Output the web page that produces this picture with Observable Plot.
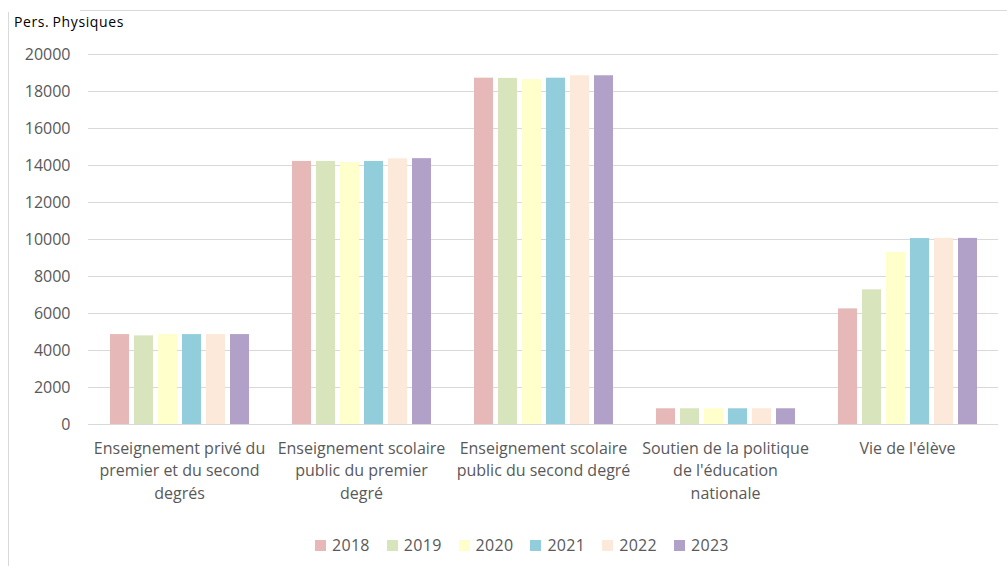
<!DOCTYPE html>
<html>
<head>
<meta charset="utf-8">
<script src="https://cdn.jsdelivr.net/npm/d3@7"></script>
<script src="https://cdn.jsdelivr.net/npm/@observablehq/plot@0.6"></script>
<style>
  html, body { margin: 0; padding: 0; background: #fff; width: 1007px; height: 566px; overflow: hidden; }
  body { position: relative; font-family: "Open Sans", sans-serif; }
  #frame { position: absolute; left: 8px; top: 10px; width: 999px; height: 556px; border-left: 1px solid #d9d9d9; border-top: 1px solid #d9d9d9; box-sizing: border-box; }
  #frameGap { position: absolute; left: 8px; top: 9px; width: 72px; height: 3px; background: #fff; }
  #unit { position: absolute; left: 14px; top: 12px; font-size: 14px; color: #000; letter-spacing: 0.6px; word-spacing: -1px; }
  #chart { position: absolute; left: 0; top: 0; }
  #legend { position: absolute; left: 315px; top: 534px; display: flex; align-items: center; font-size: 16px; color: #595959; letter-spacing: 0.3px; }
  .item { display: flex; align-items: center; margin-right: 17px; }
  .sw { width: 11px; height: 11px; margin-right: 6px; }
</style>
</head>
<body>
<div id="frame"></div>
<div id="frameGap"></div>
<div id="chart"></div>
<div id="unit">Pers. Physiques</div>
<div id="legend"></div>
<script>
const categories = [
  "Enseignement privé du premier et du second degrés",
  "Enseignement scolaire public du premier degré",
  "Enseignement scolaire public du second degré",
  "Soutien de la politique de l'éducation nationale",
  "Vie de l'élève"
];
const categoryLabels = [
  "Enseignement privé du\npremier et du second\ndegrés",
  "Enseignement scolaire\npublic du premier\ndegré",
  "Enseignement scolaire\npublic du second degré",
  "Soutien de la politique\nde l'éducation\nnationale",
  "Vie de l'élève"
];
const years = ["2018", "2019", "2020", "2021", "2022", "2023"];
const v2018 = [4860, 14220, 18720, 850, 6250];
const v2019 = [4790, 14220, 18710, 850, 7280];
const v2020 = [4860, 14160, 18650, 850, 9300];
const v2021 = [4860, 14220, 18720, 850, 10050];
const v2022 = [4860, 14360, 18850, 850, 10060];
const v2023 = [4860, 14370, 18850, 850, 10060];
const colors = ["#e6b8b7", "#d8e4bc", "#ffffcc", "#92cddc", "#fde9d9", "#b1a0c7"];
const yTicks = [0, 2000, 4000, 6000, 8000, 10000, 12000, 14000, 16000, 18000, 20000];

const series = [v2018, v2019, v2020, v2021, v2022, v2023];
const data = [];
categories.forEach((c, i) => {
  years.forEach((y, j) => data.push({category: c, year: y, value: series[j][i]}));
});
const labelOf = new Map(categories.map((c, i) => [c, categoryLabels[i]]));

const chart = Plot.plot({
  width: 1007,
  height: 514,
  marginLeft: 88,
  marginRight: 9,
  marginTop: 54,
  marginBottom: 90,
  style: {fontFamily: "Open Sans, sans-serif", fontSize: "16px", color: "#595959", background: "transparent"},
  fx: {domain: categories, padding: 0, label: null},
  x: {domain: years, paddingInner: 0.22, paddingOuter: 0.84, axis: null},
  y: {domain: [0, 20000], label: null},
  color: {domain: years, range: colors},
  marks: [
    Plot.gridY(yTicks, {stroke: "#d9d9d9", strokeOpacity: 1, strokeWidth: 1}),
    Plot.barY(data, {fx: "category", x: "year", y: "value", fill: "year"}),
    Plot.ruleY([0], {stroke: "#d9d9d9", strokeWidth: 1.2}),
    Plot.axisY(yTicks, {tickSize: 0, tickPadding: 18, tickFormat: d => String(d), fill: "#595959", fontSize: 16}),
    Plot.axisFx({anchor: "bottom", tickSize: 0, tickPadding: 13, lineHeight: 1.42, tickFormat: d => labelOf.get(d), fill: "#595959", fontSize: 16})
  ]
});
document.getElementById("chart").appendChild(chart);

const legend = document.getElementById("legend");
years.forEach((y, i) => {
  const it = document.createElement("div");
  it.className = "item";
  const sw = document.createElement("div");
  sw.className = "sw";
  sw.style.background = colors[i];
  const t = document.createElement("span");
  t.textContent = y;
  it.appendChild(sw);
  it.appendChild(t);
  legend.appendChild(it);
});
</script>
</body>
</html>
